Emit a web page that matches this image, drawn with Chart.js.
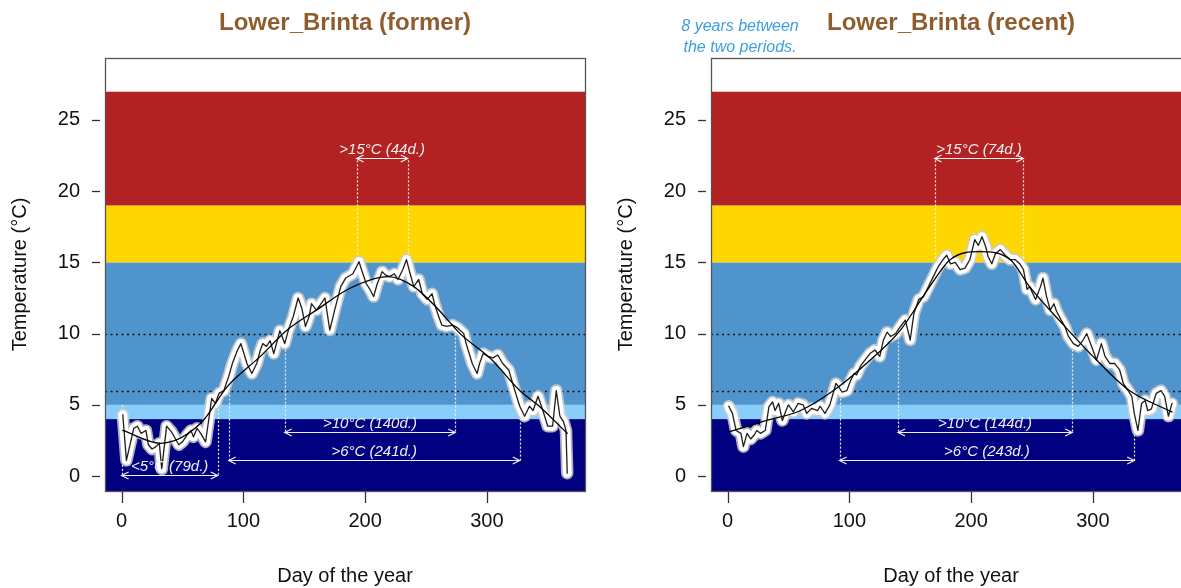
<!DOCTYPE html>
<html>
<head>
<meta charset="utf-8">
<script src="https://cdn.jsdelivr.net/npm/chart.js@4.4.1/dist/chart.umd.min.js"></script>
<style>
  html, body { margin: 0; padding: 0; background: #fff; overflow: hidden; }
  body { width: 1181px; height: 588px; position: relative; }
  canvas { position: absolute; top: 0; }
  #former { left: 0; }
  #recent { left: 606px; }
</style>
</head>
<body>
<canvas id="former" width="606" height="588"></canvas>
<canvas id="recent" width="606" height="588"></canvas>
<script>
// Daily water temperature, former period
const formerDays = [1, 4, 10, 13, 16, 20, 22, 25, 28, 31, 33, 37, 41, 44, 47, 50, 54, 57, 59, 62, 65, 69, 72, 74, 77, 80,
  84, 88, 91, 95, 98, 103, 107, 111, 114, 116, 119, 122, 125, 128, 130, 134, 137, 141, 145, 148, 151, 154, 156, 160, 163,
  167, 171, 175, 180, 184, 190, 195, 197, 201, 204, 207, 210, 214, 217, 220, 224, 227, 231, 234, 237, 240, 244, 247, 251,
  255, 257, 260, 263, 267, 272, 276, 281, 283, 288, 292, 294, 297, 301, 305, 309, 313, 318, 320, 323, 327, 331, 335, 338,
  342, 346, 350, 354, 357, 360, 363, 365, 366];
const formerTemps = [4.3, 1.1, 3.35, 3.5, 3.0, 3.2, 2.2, 1.9, 2.05, 2.3, 0.5, 3.5, 3.1, 2.65, 2.2, 2.4, 2.9, 3.2, 2.75, 3.35, 3.0, 2.4, 4.2, 5.45, 5.1, 5.8,
  6.0, 7.0, 7.9, 8.8, 9.3, 7.9, 7.2, 7.9, 8.85, 9.3, 9.1, 9.5, 8.6, 9.55, 10.2, 9.3, 10.25, 11.2, 12.5, 11.8, 10.5, 11.2, 12.1, 11.65, 12.0,
  12.5, 10.25, 11.65, 13.3, 13.9, 14.2, 15.05, 14.5, 13.5, 13.1, 12.6, 13.5, 14.35, 14.1, 14.0, 14.2, 13.8, 14.5, 15.2, 14.2, 13.3, 13.8, 12.8, 12.4,
  12.8, 12.1, 11.3, 10.6, 10.5, 10.6, 10.4, 10.0, 9.3, 7.9, 7.2, 7.9, 8.6, 8.4, 8.3, 8.5, 7.9, 7.45, 6.85, 6.0, 4.9, 4.2, 4.9, 4.6,
  5.6, 4.6, 3.5, 3.5, 6.0, 4.2, 3.8, 3.2, 0.2];
const formerSmoothDays = [1, 32, 65, 87, 114, 136, 160, 188, 219, 240, 259, 278, 303, 327, 343, 366];
const formerSmooth = [3.2, 2.3, 3.7, 6.3, 8.4, 10.25, 11.65, 13.2, 14.0, 13.3, 11.8, 10.0, 8.25, 6.0, 4.9, 3.0];

// Daily water temperature, recent period
const recentDays = [1, 4, 7, 11, 13, 16, 19, 22, 24, 27, 31, 34, 37, 39, 42, 45, 48, 50, 54, 58, 62, 65, 69, 74, 76, 80,
  84, 89, 91, 94, 98, 101, 104, 106, 109, 113, 117, 121, 125, 128, 131, 134, 138, 142, 146, 150, 153, 157, 161, 165,
  169, 173, 177, 180, 183, 187, 191, 195, 199, 203, 206, 209, 212, 214, 217, 220, 224, 228, 232, 236, 240, 243, 246,
  248, 253, 257, 259, 262, 265, 268, 270, 274, 277, 280, 284, 288, 292, 295, 299, 303, 307, 310, 314, 318, 322, 325,
  329, 332, 334, 337, 340, 343, 345, 348, 352, 356, 359, 362, 365];
const recentTemps = [4.9, 4.4, 3.2, 3.0, 2.06, 3.0, 2.6, 2.9, 3.2, 3.0, 3.2, 4.87, 5.2, 4.6, 5.1, 3.9, 4.6, 5.0, 4.5, 5.1, 5.0, 4.4, 4.75, 4.6, 4.9, 4.4,
  5.0, 6.5, 6.3, 5.9, 6.0, 6.7, 7.2, 7.1, 7.7, 8.15, 8.6, 8.85, 8.4, 9.55, 10.1, 9.8, 10.0, 10.5, 10.95, 9.55, 11.4, 12.4, 12.6, 13.3,
  14.0, 14.7, 15.2, 15.5, 14.9, 15.0, 14.5, 14.6, 15.2, 16.6, 16.2, 16.8, 16.1, 15.4, 14.9, 15.6, 15.9, 15.5, 15.2, 15.2, 14.9, 14.5, 13.1,
  13.3, 12.4, 13.3, 13.9, 12.6, 11.65, 12.1, 11.6, 10.95, 10.5, 9.8, 9.3, 9.1, 9.55, 10.0, 9.1, 8.15, 9.3, 8.4, 7.9, 7.9, 7.45, 6.5,
  6.0, 5.6, 4.4, 3.2, 5.1, 5.3, 4.6, 4.7, 5.8, 6.0, 5.6, 4.2, 5.1];
const recentSmoothDays = [1, 32, 60, 87, 114, 142, 166, 183, 207, 232, 248, 276, 303, 330, 365];
const recentSmooth = [3.1, 3.9, 4.6, 6.0, 7.9, 10.25, 13.3, 15.2, 15.75, 15.2, 13.3, 10.6, 8.15, 6.0, 4.5];

// Threshold periods: [sign, threshold, first day, last day, number of days]
const formerSpans = [['>', 15, 193, 235, 44], ['>', 10, 134, 274, 140], ['>', 6, 88, 327, 241], ['<', 5, 0, 79, 79]];
const recentSpans = [['>', 15, 170, 243, 74], ['>', 10, 140, 283, 144], ['>', 6, 92, 334, 243]];

// Temperature bands and reference lines
const bandEdges = [4, 5, 15, 19, 27];
const bandColors = ['#000080', '#87CEFA', '#4F94CD', '#FFD700', '#B22222', '#FFFFFF'];
const refLines = [6, 10];

const xTicks = [0, 100, 200, 300];
const yTicks = [0, 5, 10, 15, 20, 25];

// where the span arrows sit, in degrees
const arrowLevel = { 15: 22.3, 10: 3.1, 6: 1.1, 5: 0.1 };

const FONT = '"Liberation Sans", Arial, sans-serif';

function arrowHead(ctx, tipX, py, dir) {
    ctx.beginPath();
    ctx.moveTo(tipX + dir * 7, py - 3.5);
    ctx.lineTo(tipX, py);
    ctx.lineTo(tipX + dir * 7, py + 3.5);
    ctx.stroke();
}

const panelDecor = {
    id: 'panelDecor',
    beforeDatasetsDraw(chart, args, opts) {
        const { ctx, chartArea: a, scales: { x, y } } = chart;
        ctx.save();
        // coloured bands
        const edges = [y.min].concat(bandEdges, [y.max]);
        bandColors.forEach((c, i) => {
            const top = y.getPixelForValue(edges[i + 1]);
            const bot = y.getPixelForValue(edges[i]);
            ctx.fillStyle = c;
            ctx.fillRect(a.left, top, a.right - a.left, bot - top);
        });
        // dotted reference lines
        ctx.strokeStyle = '#111';
        ctx.lineWidth = 1.4;
        ctx.setLineDash([2, 3.5]);
        refLines.forEach(v => {
            const py = Math.round(y.getPixelForValue(v)) + 0.5;
            ctx.beginPath();
            ctx.moveTo(a.left, py);
            ctx.lineTo(a.right, py);
            ctx.stroke();
        });
        // dotted verticals of the periods
        ctx.strokeStyle = '#f0f0f0';
        ctx.lineWidth = 1.2;
        ctx.setLineDash([2, 2]);
        opts.spans.forEach(s => {
            const y1 = y.getPixelForValue(s[1]);
            const y2 = y.getPixelForValue(arrowLevel[s[1]]);
            [s[2], s[3]].forEach(d => {
                const px = Math.round(x.getPixelForValue(d)) + 0.5;
                ctx.beginPath();
                ctx.moveTo(px, y1);
                ctx.lineTo(px, y2);
                ctx.stroke();
            });
        });
        ctx.restore();
    },
    afterDatasetsDraw(chart, args, opts) {
        const { ctx, chartArea: a, scales: { x, y } } = chart;
        ctx.save();
        // period arrows and labels
        ctx.strokeStyle = '#f0f0f0';
        ctx.fillStyle = '#f0f0f0';
        ctx.lineWidth = 1.2;
        ctx.font = 'italic 15px ' + FONT;
        ctx.textAlign = 'center';
        ctx.textBaseline = 'middle';
        opts.spans.forEach(s => {
            const py = Math.round(y.getPixelForValue(arrowLevel[s[1]])) + 0.5;
            const x1 = x.getPixelForValue(s[2]);
            const x2 = x.getPixelForValue(s[3]);
            ctx.beginPath();
            ctx.moveTo(x1, py);
            ctx.lineTo(x2, py);
            ctx.stroke();
            arrowHead(ctx, x1, py, 1);
            arrowHead(ctx, x2, py, -1);
            ctx.fillText(s[0] + s[1] + '°C (' + s[4] + 'd.)', (x1 + x2) / 2, py - 9);
        });
        // plot box
        ctx.strokeStyle = '#555';
        ctx.lineWidth = 1.3;
        ctx.strokeRect(a.left + 0.5, a.top + 0.5, a.right - a.left, a.bottom - a.top);
        // tick marks
        ctx.strokeStyle = '#333';
        y.ticks.forEach(t => {
            const py = Math.round(y.getPixelForValue(t.value)) + 0.5;
            ctx.beginPath();
            ctx.moveTo(a.left - 13, py);
            ctx.lineTo(a.left - 5, py);
            ctx.stroke();
        });
        x.ticks.forEach(t => {
            const px = Math.round(x.getPixelForValue(t.value)) + 0.5;
            ctx.beginPath();
            ctx.moveTo(px, a.bottom + 1);
            ctx.lineTo(px, a.bottom + 12);
            ctx.stroke();
        });
        // title
        ctx.fillStyle = '#8E5D2E';
        ctx.font = 'bold 24px ' + FONT;
        ctx.fillText(opts.title, (a.left + a.right) / 2, 23);
        // side note
        if (opts.note) {
            ctx.fillStyle = '#3D9FE0';
            ctx.font = 'italic 16px ' + FONT;
            opts.note.forEach((line, i) => ctx.fillText(line, 134, 27 + i * 21));
        }
        ctx.restore();
    }
};

function buildPanel(canvasId, title, days, temps, smoothDays, smoothTemps, spans, note) {
    const daily = days.map((d, i) => ({ x: d, y: temps[i] }));
    const smooth = smoothDays.map((d, i) => ({ x: d, y: smoothTemps[i] }));
    const axisFont = { family: FONT, size: 20 };

    new Chart(document.getElementById(canvasId), {
        type: 'line',
        data: {
            datasets: [
                { data: smooth, borderColor: '#000', borderWidth: 1.3, cubicInterpolationMode: 'monotone', order: 0 },
                { data: daily, borderColor: '#1e1e1e', borderWidth: 1.3, order: 1 },
                { data: daily, borderColor: '#ffffff', borderWidth: 9, order: 2 },
                { data: daily, borderColor: 'rgba(205,205,205,0.85)', borderWidth: 12.5, order: 3 }
            ]
        },
        options: {
            responsive: false,
            animation: false,
            devicePixelRatio: 1,
            elements: {
                point: { radius: 0 },
                line: { tension: 0, borderJoinStyle: 'round', borderCapStyle: 'round' }
            },
            layout: { padding: { top: 58, right: 21, left: 0, bottom: 0 } },
            plugins: {
                legend: { display: false },
                tooltip: { enabled: false },
                panelDecor: { title: title, spans: spans, note: note }
            },
            scales: {
                x: {
                    type: 'linear',
                    min: -13.6,
                    max: 380.6,
                    afterBuildTicks: s => { s.ticks = xTicks.map(v => ({ value: v })); },
                    afterFit: s => { s.height = 97; },
                    grid: { display: false, drawTicks: false },
                    border: { display: false },
                    ticks: { padding: 18, font: axisFont, color: '#111' },
                    title: { display: true, text: 'Day of the year', font: axisFont, color: '#111', padding: { top: 0, bottom: 0 } }
                },
                y: {
                    type: 'linear',
                    min: -1.05,
                    max: 29.35,
                    afterBuildTicks: s => { s.ticks = yTicks.map(v => ({ value: v })); },
                    afterFit: s => { s.width = 105; },
                    grid: { display: false, drawTicks: false },
                    border: { display: false },
                    ticks: { padding: 25, font: axisFont, color: '#111' },
                    title: { display: true, text: 'Temperature (°C)', font: axisFont, color: '#111', padding: { top: 8, bottom: 0 } }
                }
            }
        },
        plugins: [panelDecor]
    });
}

buildPanel('former', 'Lower_Brinta (former)', formerDays, formerTemps, formerSmoothDays, formerSmooth, formerSpans, null);
buildPanel('recent', 'Lower_Brinta (recent)', recentDays, recentTemps, recentSmoothDays, recentSmooth, recentSpans,
    ['8 years between', 'the two periods.']);
</script>
</body>
</html>
